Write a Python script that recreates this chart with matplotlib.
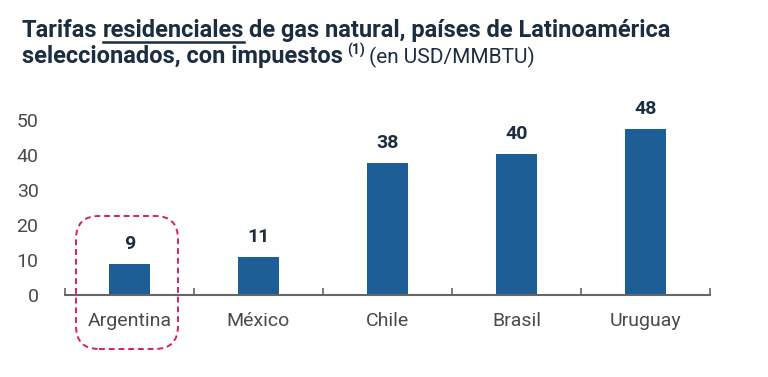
import numpy as np
import matplotlib.pyplot as plt
from matplotlib.patches import FancyBboxPatch

paises = ['Argentina', 'México', 'Chile', 'Brasil', 'Uruguay']
tarifas = [8.9, 10.8, 37.7, 40.2, 47.4]
etiquetas = ['9', '11', '38', '40', '48']

azul = '#1d5e96'
texto_oscuro = '#1c2d40'
gris = '#4a4a4a'

plt.rcParams['font.family'] = ['Roboto', 'DejaVu Sans']

fig = plt.figure(figsize=(7.68, 3.77), dpi=100)
ax = fig.add_axes([65 / 768, 82 / 377, 645 / 768, 192.5 / 377])

x = np.arange(len(paises))
ax.bar(x, tarifas, width=0.32, color=azul, zorder=2)
for xi, v, lab in zip(x, tarifas, etiquetas):
    ax.annotate(lab, (xi, v), xytext=(0, 8), textcoords='offset points',
                ha='center', va='bottom', fontsize=14, fontweight='bold',
                color=texto_oscuro)

ax.set_xlim(-0.5, len(paises) - 0.5)
ax.set_ylim(0, 55)
ax.set_yticks([0, 10, 20, 30, 40, 50])
ax.tick_params(axis='y', length=0, pad=19, labelsize=14, labelcolor=gris)

# ticks de separacion entre categorias
ax.set_xticks(np.arange(-0.5, len(paises)), minor=False)
ax.set_xticklabels([])
ax.tick_params(axis='x', direction='in', length=5, width=1.2, color='#666666')
ax.set_xticks(x, minor=True)
ax.set_xticklabels(paises, minor=True)
ax.tick_params(axis='x', which='minor', length=0, pad=12, labelsize=14,
               labelcolor=gris)

for s in ['top', 'right', 'left']:
    ax.spines[s].set_visible(False)
ax.spines['bottom'].set_color('#666666')
ax.spines['bottom'].set_linewidth(1.5)

# recuadro punteado alrededor de Argentina
caja = FancyBboxPatch((76 / 768, (377 - 349) / 377), 102 / 768, 133 / 377,
                      boxstyle='round,pad=0,rounding_size=0.03',
                      transform=fig.transFigure, fill=False,
                      edgecolor='#d6225e', linestyle=(0, (3, 2)), linewidth=1.4,
                      mutation_aspect=768 / 377)
fig.patches.append(caja)

# titulo en trozos
fig.canvas.draw()
r = fig.canvas.get_renderer()


def trozo(xp, yp, s, **kw):
    t = fig.text(xp / 768, 1 - yp / 377, s, va='baseline', ha='left',
                 color=texto_oscuro, **kw)
    bb = t.get_window_extent(renderer=r)
    return bb.x1


fs = 17
esp = 5
xp = trozo(22, 37, 'Tarifas', fontsize=fs, fontweight='bold') + esp
xp2 = trozo(xp, 37, 'residenciales', fontsize=fs, fontweight='bold')
fig.add_artist(plt.Line2D([xp / 768, xp2 / 768], [1 - 41.5 / 377, 1 - 41.5 / 377],
                          transform=fig.transFigure, color=texto_oscuro, lw=1.8))
trozo(xp2 + esp, 37, 'de gas natural, países de Latinoamérica', fontsize=fs,
      fontweight='bold')
xp = trozo(22, 63, 'seleccionados, con impuestos', fontsize=fs,
           fontweight='bold') + 4
xp = trozo(xp, 55, '(1)', fontsize=10, fontweight='bold')
trozo(xp + 4, 63, '(en USD/MMBTU)', fontsize=15, fontweight='normal')

fig.savefig('out.png', dpi=100)
